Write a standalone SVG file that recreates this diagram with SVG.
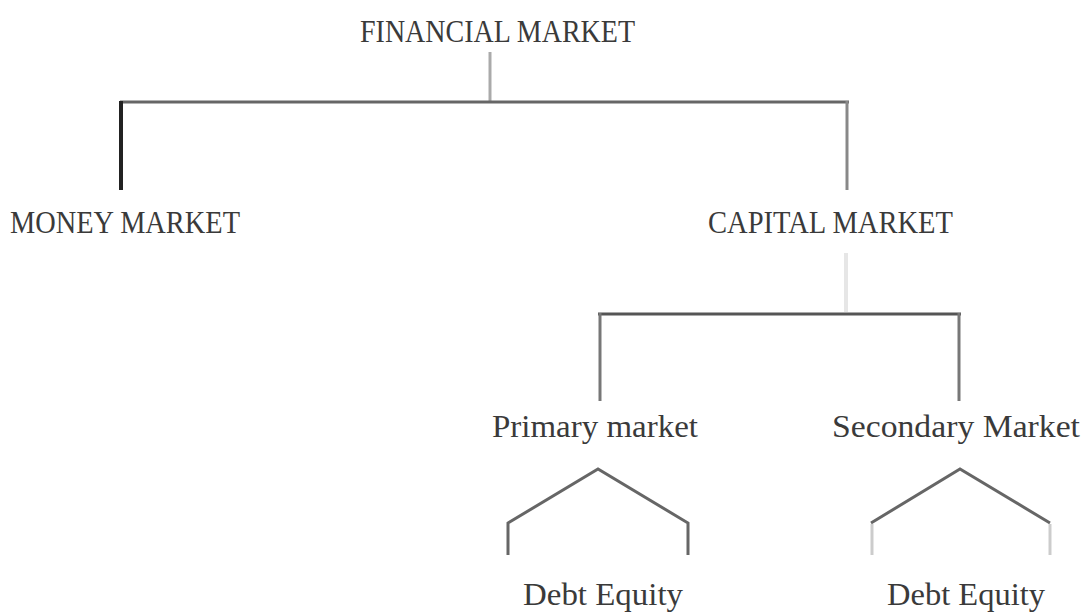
<svg xmlns="http://www.w3.org/2000/svg" width="1084" height="614" viewBox="0 0 1084 614">
<style>
text{font-family:"Liberation Serif","Times New Roman",serif;font-size:31px;fill:#3a3a3a}
line,polyline{fill:none;stroke-linecap:butt}
</style>
<rect width="1084" height="614" fill="#fff"/>
<g id="connectors">
<line x1="490" y1="52" x2="490" y2="101" stroke="#aaa" stroke-width="3"/>
<line x1="120" y1="102" x2="849" y2="102" stroke="#666" stroke-width="3"/>
<line x1="121" y1="101" x2="121" y2="190" stroke="#222" stroke-width="4"/>
<line x1="847" y1="101" x2="847" y2="190" stroke="#888" stroke-width="3"/>
<line x1="846" y1="253" x2="846" y2="312" stroke="#e6e6e6" stroke-width="4"/>
<line x1="598" y1="314" x2="961" y2="314" stroke="#555" stroke-width="3"/>
<line x1="600" y1="313" x2="600" y2="401" stroke="#777" stroke-width="3"/>
<line x1="959" y1="313" x2="959" y2="401" stroke="#777" stroke-width="3"/>
<polyline points="508,555 508,523 598,469 688,523 688,555" stroke="#666" stroke-width="3"/>
<polyline points="871,523 960,469 1050,523" stroke="#666" stroke-width="3"/>
<line x1="872" y1="524" x2="872" y2="555" stroke="#ccc" stroke-width="3"/>
<line x1="1050" y1="524" x2="1050" y2="555" stroke="#ccc" stroke-width="3"/>
</g>
<g id="financial"><text x="360" y="42" textLength="275" lengthAdjust="spacingAndGlyphs">FINANCIAL MARKET</text></g>
<g id="money"><text x="10" y="233" textLength="230" lengthAdjust="spacingAndGlyphs">MONEY MARKET</text></g>
<g id="capital"><text x="708" y="233" textLength="245" lengthAdjust="spacingAndGlyphs">CAPITAL MARKET</text></g>
<g id="primary"><text x="492" y="437" textLength="206" lengthAdjust="spacingAndGlyphs">Primary market</text></g>
<g id="secondary"><text x="832" y="437" textLength="248" lengthAdjust="spacingAndGlyphs">Secondary Market</text></g>
<g id="primary-debt-equity"><text x="523" y="605" textLength="160" lengthAdjust="spacingAndGlyphs">Debt Equity</text></g>
<g id="secondary-debt-equity"><text x="887" y="605" textLength="158" lengthAdjust="spacingAndGlyphs">Debt Equity</text></g>
</svg>
